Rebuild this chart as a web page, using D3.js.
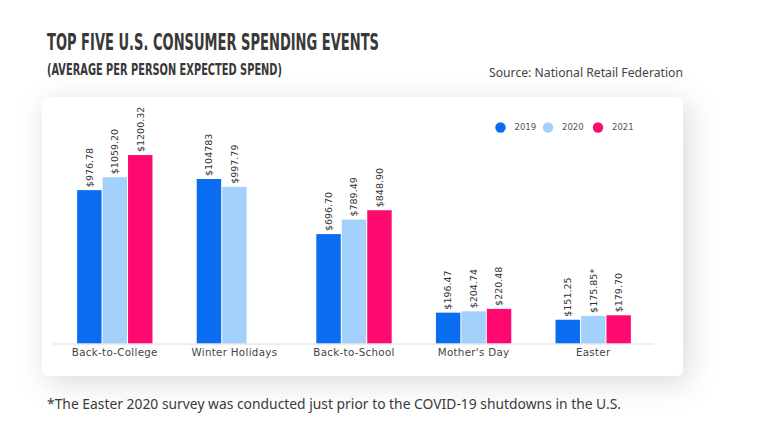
<!DOCTYPE html>
<html>
<head>
<meta charset="utf-8">
<script src="https://cdn.jsdelivr.net/npm/d3@7"></script>
<style>
  body { margin: 0; background: #fff; }
  svg { display: block; }
</style>
</head>
<body>
<div id="chart"></div>
<script>
// data
var categories = ["Back-to-College", "Winter Holidays", "Back-to-School", "Mother's Day", "Easter"];
var years = ["2019", "2020", "2021"];
var values2019 = [976.78, 1047.83, 696.70, 196.47, 151.25];
var values2020 = [1059.20, 997.79, 789.49, 204.74, 175.85];
var values2021 = [1200.32, null, 848.90, 220.48, 179.70];
var labels2019 = ["$976.78", "$104783", "$696.70", "$196.47", "$151.25"];
var labels2020 = ["$1059.20", "$997.79", "$789.49", "$204.74", "$175.85*"];
var labels2021 = ["$1200.32", null, "$848.90", "$220.48", "$179.70"];
var colors = ["#0a6cf0", "#a3d1fb", "#fe0a6f"];

var W = 768, H = 432;

var svg = d3.select("#chart").append("svg")
    .attr("width", W)
    .attr("height", H);

var defs = svg.append("defs");
var f = defs.append("filter").attr("id", "shadow")
    .attr("x", "-20%").attr("y", "-30%").attr("width", "140%").attr("height", "160%");
f.append("feDropShadow")
    .attr("dx", 5).attr("dy", 6)
    .attr("stdDeviation", 15)
    .attr("flood-color", "#000")
    .attr("flood-opacity", 0.15);

// card
svg.append("rect")
    .attr("x", 42).attr("y", 97)
    .attr("width", 641).attr("height", 279)
    .attr("rx", 6)
    .attr("fill", "#fff")
    .attr("filter", "url(#shadow)");

// titles
svg.append("text")
    .attr("x", 47).attr("y", 50)
    .attr("textLength", 332).attr("lengthAdjust", "spacingAndGlyphs")
    .style("font-family", "'Liberation Sans Narrow', 'DejaVu Sans Condensed', sans-serif")
    .style("font-weight", "bold")
    .style("font-size", "23px")
    .style("fill", "#383838")
    .text("TOP FIVE U.S. CONSUMER SPENDING EVENTS");

svg.append("text")
    .attr("x", 47).attr("y", 75)
    .attr("textLength", 235).attr("lengthAdjust", "spacingAndGlyphs")
    .style("font-family", "'Liberation Sans Narrow', 'DejaVu Sans Condensed', sans-serif")
    .style("font-weight", "bold")
    .style("font-size", "16.5px")
    .style("fill", "#383838")
    .text("(AVERAGE PER PERSON EXPECTED SPEND)");

svg.append("text")
    .attr("x", 489).attr("y", 77)
    .attr("textLength", 194).attr("lengthAdjust", "spacingAndGlyphs")
    .style("font-family", "'Noto Sans', sans-serif")
    .style("font-size", "12px")
    .style("fill", "#444")
    .text("Source: National Retail Federation");

svg.append("text")
    .attr("x", 47).attr("y", 409)
    .attr("textLength", 574).attr("lengthAdjust", "spacingAndGlyphs")
    .style("font-family", "'Noto Sans', sans-serif")
    .style("font-size", "14px")
    .style("fill", "#3a3a3a")
    .text("*The Easter 2020 survey was conducted just prior to the COVID-19 shutdowns in the U.S.");

// scales
var baseY = 343.5;
var x0 = d3.scaleBand().domain(categories).range([55, 653]).paddingInner(0.37).paddingOuter(0.185);
var x1 = d3.scaleBand().domain(years).range([0, x0.bandwidth()]).paddingInner(0.04);
var y = d3.scaleLinear().domain([0, 1400]).range([baseY, baseY - 1400 * 0.157]);

var rows = categories.map(function (c, i) {
    return {
        cat: c,
        bars: [
            { year: "2019", v: values2019[i], label: labels2019[i] },
            { year: "2020", v: values2020[i], label: labels2020[i] },
            { year: "2021", v: values2021[i], label: labels2021[i] }
        ].filter(function (d) { return d.v != null; })
    };
});

var color = d3.scaleOrdinal().domain(years).range(colors);

var groups = svg.selectAll(".grp")
    .data(rows)
    .enter().append("g")
    .attr("class", "grp")
    .attr("transform", function (d) { return "translate(" + x0(d.cat) + ",0)"; });

groups.selectAll("rect")
    .data(function (d) { return d.bars; })
    .enter().append("rect")
    .attr("x", function (d) { return x1(d.year); })
    .attr("y", function (d) { return y(d.v); })
    .attr("width", x1.bandwidth())
    .attr("height", function (d) { return y(0) - y(d.v); })
    .attr("fill", function (d) { return color(d.year); });

groups.selectAll(".val")
    .data(function (d) { return d.bars; })
    .enter().append("text")
    .attr("class", "val")
    .attr("transform", function (d) {
        return "translate(" + (x1(d.year) + x1.bandwidth() / 2) + "," + (y(d.v) - 3) + ") rotate(-90)";
    })
    .attr("dy", "0.35em")
    .style("font-family", "'DejaVu Sans', sans-serif")
    .style("font-size", "9.5px")
    .style("fill", "#333")
    .text(function (d) { return d.label; });

// axis
var xAxis = svg.append("g")
    .attr("transform", "translate(0," + baseY + ")")
    .call(d3.axisBottom(x0).tickSize(0).tickPadding(5.5).tickSizeOuter(0));
xAxis.select(".domain").attr("stroke", "#ddd").attr("d", "M53,0.5H654");
xAxis.selectAll("text")
    .style("font-family", "'DejaVu Sans', sans-serif")
    .style("font-size", "10.3px")
    .style("letter-spacing", "0.3px")
    .style("fill", "#444");

// legend
var legend = svg.append("g").selectAll("g")
    .data(years)
    .enter().append("g")
    .attr("transform", function (d, i) { return "translate(" + [500.5, 548, 598][i] + ",127.5)"; });
legend.append("circle")
    .attr("r", 5.2)
    .attr("fill", function (d) { return color(d); });
legend.append("text")
    .attr("x", 14).attr("dy", "0.35em")
    .style("font-family", "'DejaVu Sans', sans-serif")
    .style("font-size", "8.5px")
    .style("fill", "#555")
    .text(function (d) { return d; });
</script>
</body>
</html>
